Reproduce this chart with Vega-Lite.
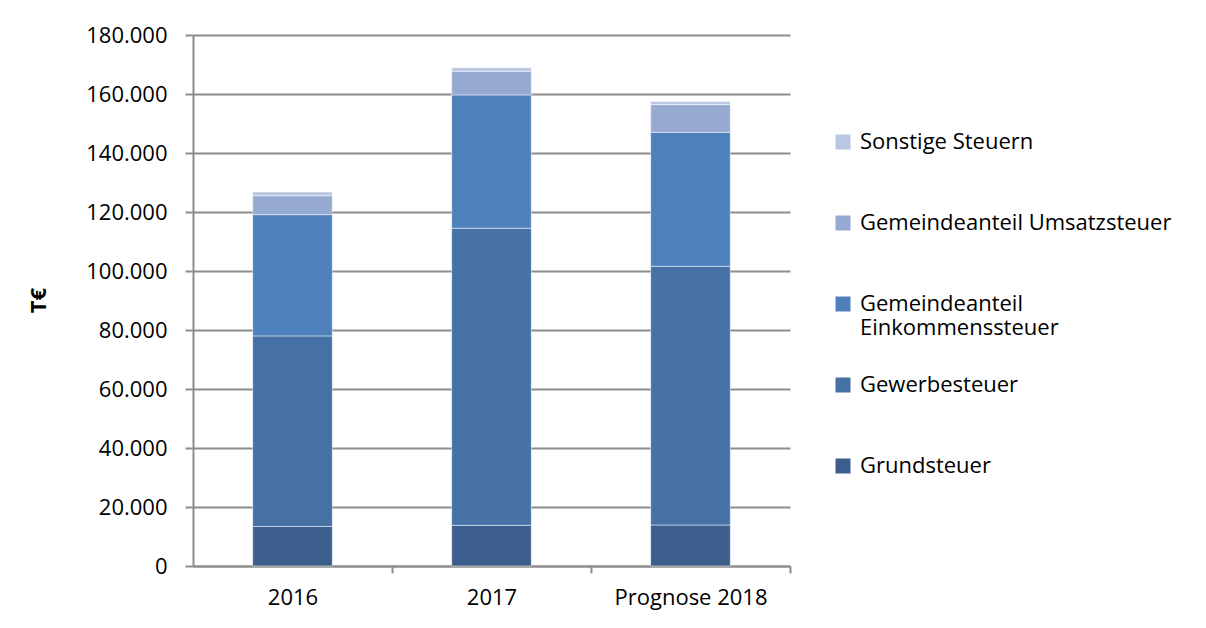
{
  "$schema": "https://vega.github.io/schema/vega-lite/v6.json",
  "width": 597,
  "height": 531,
  "autosize": {"type": "none"},
  "padding": {"left": 193, "top": 35, "right": 416, "bottom": 62},
  "background": "white",
  "config": {
    "font": "Open Sans",
    "view": {"stroke": null},
    "axis": {"labelFont": "Open Sans", "labelFontSize": 22, "labelColor": "#000000", "domainColor": "#8c8c8c", "tickColor": "#8c8c8c", "gridColor": "#8c8c8c", "domainWidth": 2, "tickWidth": 2, "gridWidth": 2},
    "legend": {"labelFont": "Open Sans", "labelFontSize": 22, "labelColor": "#000000"}
  },
  "data": {
    "values": [
      {"Jahr": "2016", "Steuer": "Grundsteuer", "Wert": 13400, "Rang": 1},
      {"Jahr": "2016", "Steuer": "Gewerbesteuer", "Wert": 64600, "Rang": 2},
      {"Jahr": "2016", "Steuer": "Gemeindeanteil Einkommenssteuer", "Wert": 41100, "Rang": 3},
      {"Jahr": "2016", "Steuer": "Gemeindeanteil Umsatzsteuer", "Wert": 6400, "Rang": 4},
      {"Jahr": "2016", "Steuer": "Sonstige Steuern", "Wert": 1300, "Rang": 5},
      {"Jahr": "2017", "Steuer": "Grundsteuer", "Wert": 13800, "Rang": 1},
      {"Jahr": "2017", "Steuer": "Gewerbesteuer", "Wert": 100700, "Rang": 2},
      {"Jahr": "2017", "Steuer": "Gemeindeanteil Einkommenssteuer", "Wert": 45200, "Rang": 3},
      {"Jahr": "2017", "Steuer": "Gemeindeanteil Umsatzsteuer", "Wert": 8000, "Rang": 4},
      {"Jahr": "2017", "Steuer": "Sonstige Steuern", "Wert": 1200, "Rang": 5},
      {"Jahr": "Prognose 2018", "Steuer": "Grundsteuer", "Wert": 13900, "Rang": 1},
      {"Jahr": "Prognose 2018", "Steuer": "Gewerbesteuer", "Wert": 87700, "Rang": 2},
      {"Jahr": "Prognose 2018", "Steuer": "Gemeindeanteil Einkommenssteuer", "Wert": 45400, "Rang": 3},
      {"Jahr": "Prognose 2018", "Steuer": "Gemeindeanteil Umsatzsteuer", "Wert": 9400, "Rang": 4},
      {"Jahr": "Prognose 2018", "Steuer": "Sonstige Steuern", "Wert": 1100, "Rang": 5}
    ]
  },
  "mark": {"type": "bar", "stroke": "#ffffff", "strokeWidth": 1, "strokeOpacity": 0.5},
  "encoding": {
    "x": {
      "field": "Jahr", "type": "nominal", "sort": null,
      "scale": {"paddingInner": 0.6, "paddingOuter": 0.3},
      "axis": {"title": null, "labelAngle": 0, "tickOffset": 99.5, "labelOffset": -99.5, "tickSize": 7, "labelPadding": 14, "grid": false}
    },
    "y": {
      "field": "Wert", "type": "quantitative", "stack": "zero",
      "scale": {"domain": [0, 180000], "nice": false},
      "axis": {
        "title": "T€", "titleFont": "Open Sans", "titleFontSize": 22, "titleFontWeight": "bold", "titleColor": "#000000",
        "titleX": -155, "titleY": 265, "titleAngle": 270, "titleBaseline": "middle", "titleAlign": "center",
        "values": [0, 20000, 40000, 60000, 80000, 100000, 120000, 140000, 160000, 180000],
        "labelExpr": "replace(format(datum.value, ','), ',', '.')",
        "tickSize": 8, "labelPadding": 18
      }
    },
    "color": {
      "field": "Steuer", "type": "nominal",
      "scale": {
        "domain": ["Sonstige Steuern", "Gemeindeanteil Umsatzsteuer", "Gemeindeanteil Einkommenssteuer", "Gewerbesteuer", "Grundsteuer"],
        "range": ["#b9c7e2", "#95a9d1", "#4e80bc", "#4571a5", "#3b5e8c"]
      },
      "legend": {
        "title": null, "orient": "none", "legendX": 639, "legendY": 96,
        "symbolType": "square", "symbolSize": 225, "symbolStrokeWidth": 0,
        "rowPadding": 35, "labelOffset": 6, "labelLimit": 400, "gridAlign": "all",
        "labelExpr": "datum.label == 'Gemeindeanteil Einkommenssteuer' ? ['Gemeindeanteil', 'Einkommenssteuer'] : datum.label"
      }
    },
    "order": {"field": "Rang", "type": "quantitative"}
  }
}
